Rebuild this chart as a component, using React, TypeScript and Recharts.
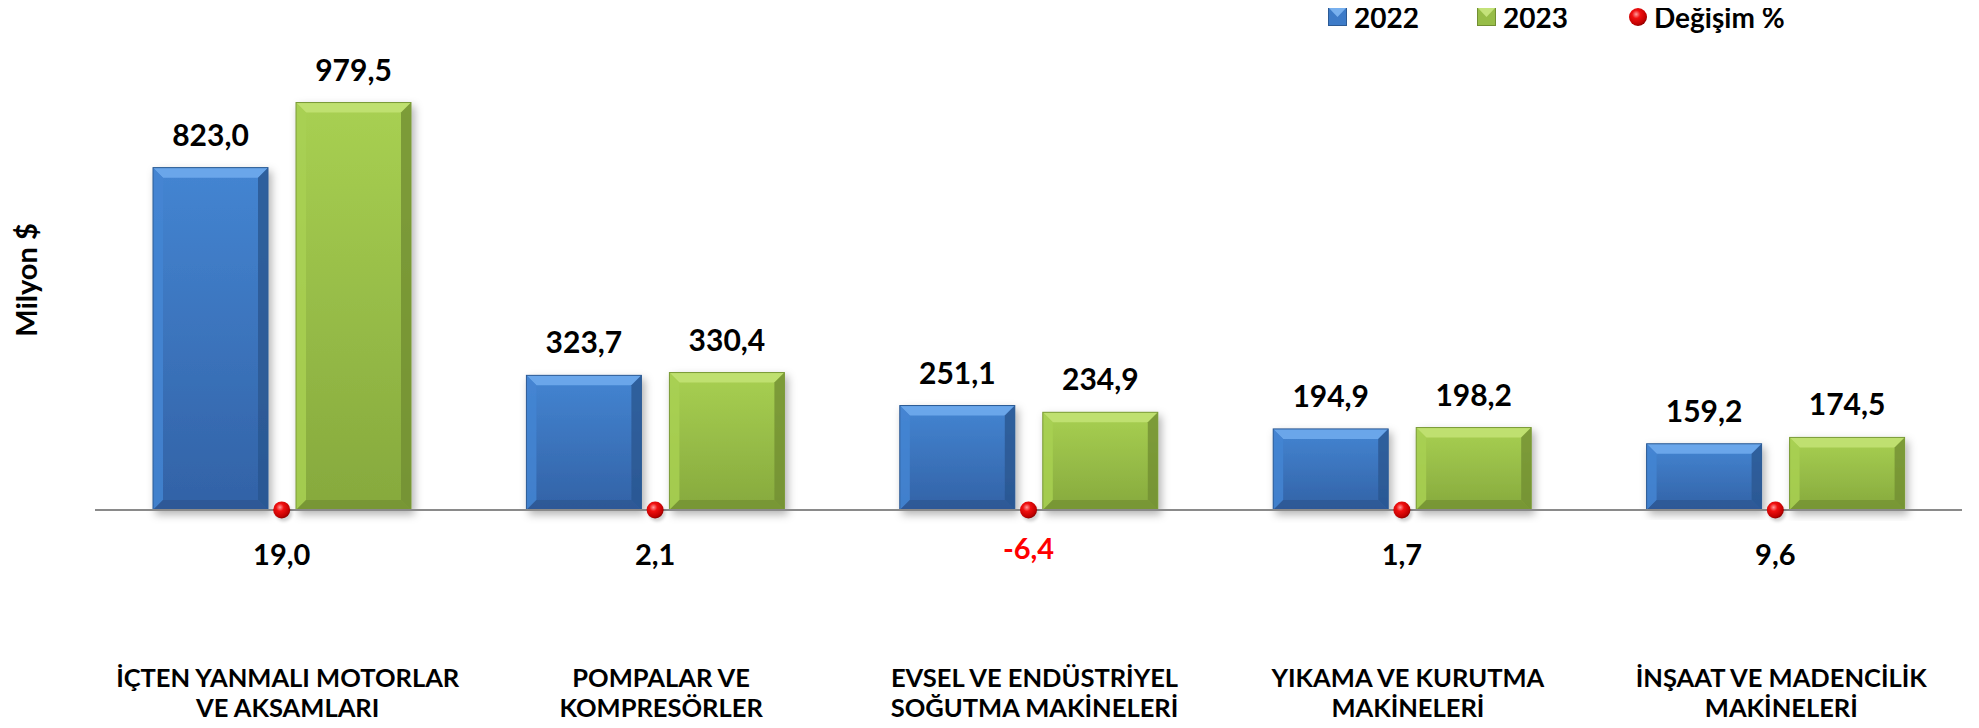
import React from "react";
import {
  ComposedChart,
  Bar,
  Line,
  XAxis,
  YAxis,
  Legend,
  LabelList,
} from "recharts";

// values in Milyon $, change in %
const categories = [
  "İÇTEN YANMALI MOTORLAR\nVE AKSAMLARI",
  "POMPALAR VE\nKOMPRESÖRLER",
  "EVSEL VE ENDÜSTRİYEL\nSOĞUTMA MAKİNELERİ",
  "YIKAMA VE KURUTMA\nMAKİNELERİ",
  "İNŞAAT VE MADENCİLİK\nMAKİNELERİ",
];
const values2022 = [823.0, 323.7, 251.1, 194.9, 159.2];
const values2023 = [979.5, 330.4, 234.9, 198.2, 174.5];
const changePct = [19.0, 2.1, -6.4, 1.7, 9.6];

const data = categories.map((name, i) => ({
  name,
  y2022: values2022[i],
  y2023: values2023[i],
  change: changePct[i],
}));

const FONT = "Lato, 'Open Sans', sans-serif";
const W = 1971;
const H = 720;

const fmt = (v: number) => v.toFixed(1).replace(".", ",");

const BAR_TONES: Record<string, { top: string; bottom: string; light: string; dark: string; edge: string }> = {
  blue: { top: "#4485d2", bottom: "#3262a6", light: "#6aa6ea", dark: "#2b5690", edge: "#2c5a94" },
  green: { top: "#a8d052", bottom: "#86a93d", light: "#bfe06f", dark: "#728f32", edge: "#7a9a37" },
};

function BevelBar(props: any) {
  const { x, y, width, height, tone } = props;
  if (!height || height <= 0) return null;
  const t = BAR_TONES[tone];
  const b = Math.min(10, height / 3, width / 3);
  return (
    <g filter="url(#barShadow)">
      <rect x={x} y={y} width={width} height={height} fill={`url(#grad-${tone})`} />
      <polygon
        points={`${x},${y} ${x + width},${y} ${x + width - b},${y + b} ${x + b},${y + b}`}
        fill={t.light}
      />
      <polygon
        points={`${x},${y} ${x + b},${y + b} ${x + b},${y + height - b} ${x},${y + height}`}
        fill={t.top}
        opacity={0.85}
      />
      <polygon
        points={`${x + width},${y} ${x + width},${y + height} ${x + width - b},${y + height - b} ${x + width - b},${y + b}`}
        fill={t.dark}
        opacity={0.8}
      />
      <polygon
        points={`${x},${y + height} ${x + width},${y + height} ${x + width - b},${y + height - b} ${x + b},${y + height - b}`}
        fill={t.dark}
        opacity={0.7}
      />
      <rect x={x} y={y} width={width} height={height} fill="none" stroke={t.edge} strokeWidth={1} />
    </g>
  );
}

function RedDot(props: any) {
  const { cx, cy } = props;
  if (cx == null || cy == null) return null;
  return (
    <g>
      <circle cx={cx + 2} cy={cy + 3} r={8.5} fill="rgba(0,0,0,0.18)" filter="url(#dotBlur)" />
      <circle cx={cx} cy={cy} r={8.5} fill="url(#dotGrad)" />
    </g>
  );
}

function ValueLabel(props: any) {
  const { x, y, width, value } = props;
  return (
    <text
      x={x + width / 2}
      y={y - 22}
      textAnchor="middle"
      fontFamily={FONT}
      fontWeight={700}
      fontSize={30}
      fill="#000"
    >
      {fmt(Number(value))}
    </text>
  );
}

function ChangeLabel(props: any) {
  const { x, y, value } = props;
  const v = Number(value);
  return (
    <text
      x={x}
      y={y + (v < 0 ? 49 : 55)}
      textAnchor="middle"
      fontFamily={FONT}
      fontWeight={700}
      fontSize={29}
      fill={v < 0 ? "#ff0000" : "#000"}
    >
      {fmt(v)}
    </text>
  );
}

function CategoryTick(props: any) {
  const { x, y, payload } = props;
  const lines = String(payload.value).split("\n");
  return (
    <text
      textAnchor="middle"
      fontFamily={FONT}
      fontWeight={700}
      fontSize={25.5}
      fill="#000"
    >
      {lines.map((l, i) => (
        <tspan key={i} x={x + 6} y={y + 177 + i * 30}>
          {l}
        </tspan>
      ))}
    </text>
  );
}

function LegendContent(props: any) {
  const { payload } = props;
  const items = payload || [];
  return (
    <div style={{ position: "relative", width: W, height: 30 }}>
      {items.map((it: any, i: number) => {
        const left = [1320, 1469, 1620][i] ?? 1320 + i * 150;
        const isDot = it.dataKey === "change";
        return (
          <div
            key={i}
            style={{
              position: "absolute",
              left,
              top: 0,
              display: "flex",
              alignItems: "center",
              height: 18,
              fontFamily: FONT,
              fontWeight: 700,
              fontSize: 28,
              color: "#000",
              whiteSpace: "nowrap",
            }}
          >
            <svg width={20} height={20} style={{ marginRight: 6 }}>
              {isDot ? (
                <circle cx={10} cy={10} r={9} fill="url(#dotGrad)" />
              ) : (
                <>
                  <rect x={0.5} y={0.5} width={18} height={18} fill={it.dataKey === "y2022" ? "#3d7bc8" : "#97bd47"} />
                  <polygon
                    points="0.5,0.5 18.5,0.5 9.5,10"
                    fill={it.dataKey === "y2022" ? "#78b0ee" : "#c4e27a"}
                  />
                  <rect x={0.5} y={0.5} width={18} height={18} fill="none" stroke={it.dataKey === "y2022" ? "#2c5a94" : "#728f32"} />
                </>
              )}
            </svg>
            <span>{it.value}</span>
          </div>
        );
      })}
    </div>
  );
}

function YLabel(props: any) {
  const vb = props.viewBox || { x: 8, y: 86, width: 79, height: 416 };
  const cx = vb.x + 9;
  const cy = vb.y + vb.height / 2 - 22;
  return (
    <text
      x={cx}
      y={cy}
      transform={`rotate(-90, ${cx}, ${cy})`}
      textAnchor="middle"
      dominantBaseline="central"
      fontFamily={FONT}
      fontWeight={700}
      fontSize={29}
      fill="#000"
    >
      Milyon $
    </text>
  );
}

export default function App() {
  return (
    <div style={{ width: W, height: H, background: "#fff" }}>
      <ComposedChart
        width={W}
        height={H}
        data={data}
        margin={{ top: 86, right: 17, bottom: 8, left: 8 }}
        barSize={115}
        barGap={28}
      >
        <defs>
          <linearGradient id="grad-blue" x1="0" y1="0" x2="0" y2="1">
            <stop offset="0%" stopColor={BAR_TONES.blue.top} />
            <stop offset="100%" stopColor={BAR_TONES.blue.bottom} />
          </linearGradient>
          <linearGradient id="grad-green" x1="0" y1="0" x2="0" y2="1">
            <stop offset="0%" stopColor={BAR_TONES.green.top} />
            <stop offset="100%" stopColor={BAR_TONES.green.bottom} />
          </linearGradient>
          <radialGradient id="dotGrad" cx="40%" cy="35%" r="65%">
            <stop offset="0%" stopColor="#ff9a9a" />
            <stop offset="35%" stopColor="#f01010" />
            <stop offset="85%" stopColor="#c00000" />
            <stop offset="100%" stopColor="#900000" />
          </radialGradient>
          <filter id="barShadow" x="-10%" y="-10%" width="130%" height="125%">
            <feDropShadow dx={3} dy={4} stdDeviation={4} floodColor="#000" floodOpacity={0.3} />
          </filter>
          <filter id="dotBlur">
            <feGaussianBlur stdDeviation={1.5} />
          </filter>
        </defs>
        <XAxis
          dataKey="name"
          type="category"
          height={210}
          tickLine={false}
          tickSize={0}
          tickMargin={0}
          axisLine={{ stroke: "#8a8a8a", strokeWidth: 2 }}
          tick={<CategoryTick />}
          interval={0}
        />
        <YAxis
          yAxisId="left"
          domain={[0, 1000]}
          width={79}
          tick={false}
          tickLine={false}
          axisLine={false}
          label={<YLabel />}
        />
        <YAxis yAxisId="right" orientation="right" hide domain={[-10, 100000]} />
        <Legend
          verticalAlign="middle"
          layout="horizontal"
          wrapperStyle={{ top: 0, left: 0, width: W, height: 30 }}
          content={<LegendContent />}
        />
        <Bar
          yAxisId="left"
          dataKey="y2022"
          name="2022"
          shape={(p: any) => <BevelBar {...p} tone="blue" />}
          isAnimationActive={false}
        >
          <LabelList dataKey="y2022" content={<ValueLabel />} />
        </Bar>
        <Bar
          yAxisId="left"
          dataKey="y2023"
          name="2023"
          shape={(p: any) => <BevelBar {...p} tone="green" />}
          isAnimationActive={false}
        >
          <LabelList dataKey="y2023" content={<ValueLabel />} />
        </Bar>
        <Line
          yAxisId="right"
          dataKey="change"
          name="Değişim %"
          stroke="none"
          strokeWidth={0}
          dot={<RedDot />}
          activeDot={false}
          legendType="circle"
          isAnimationActive={false}
        >
          <LabelList dataKey="change" content={<ChangeLabel />} />
        </Line>
      </ComposedChart>
    </div>
  );
}
